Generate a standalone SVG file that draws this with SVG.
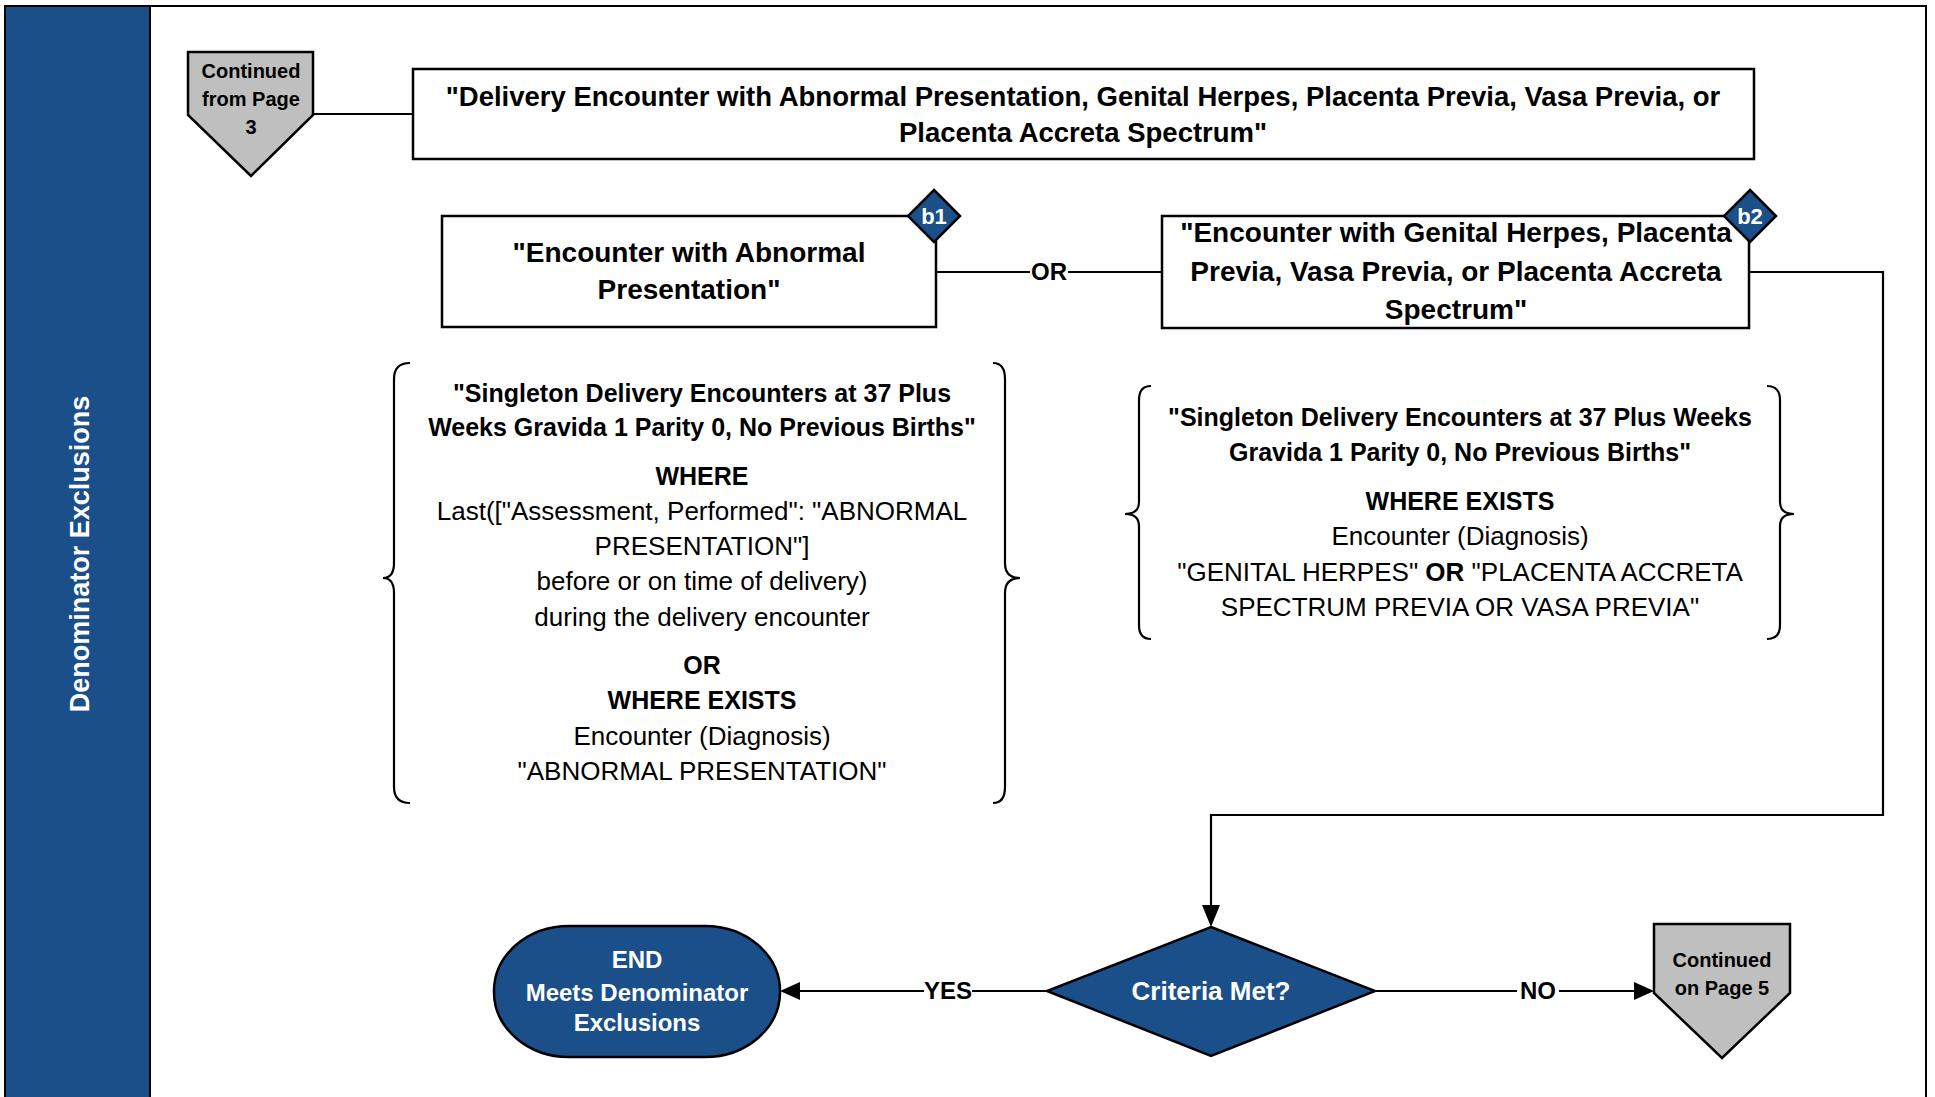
<svg xmlns="http://www.w3.org/2000/svg" width="1935" height="1097" viewBox="0 0 1935 1097">
<defs>
<style>
.b{font-family:"Liberation Sans",Arial,sans-serif;font-weight:bold;text-anchor:middle;fill:#000}
.r{font-family:"Liberation Sans",Arial,sans-serif;font-weight:normal;text-anchor:middle;fill:#000}
.w{fill:#fff}
.box{fill:#fff;stroke:#000;stroke-width:2.5}
.blue{fill:#1B4F8A;stroke:#000;stroke-width:2.5}
.gray{fill:#BFBFBF;stroke:#000;stroke-width:2.5}
.ln{fill:none;stroke:#000;stroke-width:2.2}
.br{fill:none;stroke:#000;stroke-width:2.2}
</style>
<marker id="ah" viewBox="0 0 10 10" refX="10" refY="5" markerWidth="9" markerHeight="8" markerUnits="userSpaceOnUse" orient="auto" style="overflow:visible">
<path d="M0,0 L10,5 L0,10 Z" fill="#000" transform="scale(1.9,1.5) translate(-4.7,-1.65)"/>
</marker>
</defs>
<rect x="0" y="0" width="1935" height="1097" fill="#fff"/>
<!-- frame and lane -->
<rect x="5" y="6" width="1921" height="1100" fill="none" stroke="#000" stroke-width="2"/>
<rect x="5" y="6" width="145" height="1100" fill="#1B4F8A" stroke="#000" stroke-width="2"/>
<text class="b w" font-size="27" transform="translate(89,554) rotate(-90)">Denominator Exclusions</text>

<!-- connectors -->
<g id="connectors">
<line class="ln" x1="313" y1="114" x2="413" y2="114"/>
<line class="ln" x1="936" y1="272" x2="1162" y2="272"/>
<rect x="1030" y="258" width="38" height="28" fill="#fff"/>
<text class="b" font-size="24" x="1049" y="280">OR</text>
<path class="ln" d="M1749,272 H1883 V815 H1211 V907"/>
<path d="M1202,905 L1220,905 L1211,927 Z" fill="#000"/>
<line class="ln" x1="1047" y1="991" x2="800" y2="991"/>
<path d="M800,982 L800,1000 L780,991 Z" fill="#000"/>
<rect x="924" y="977" width="48" height="28" fill="#fff"/>
<text class="b" font-size="24" x="948" y="999">YES</text>
<line class="ln" x1="1375" y1="991" x2="1634" y2="991"/>
<path d="M1634,982 L1634,1000 L1654,991 Z" fill="#000"/>
<rect x="1517" y="977" width="42" height="28" fill="#fff"/>
<text class="b" font-size="24" x="1538" y="999">NO</text>
</g>

<!-- Continued from page 3 -->
<g id="cont-from-3">
<path class="gray" d="M188,52 H313 V115 L251,176 L188,115 Z"/>
<text class="b" font-size="20" x="251" y="78">Continued</text>
<text class="b" font-size="20" x="251" y="106">from Page</text>
<text class="b" font-size="20" x="251" y="134">3</text>
</g>

<!-- top box -->
<g id="delivery-encounter">
<rect class="box" x="413" y="69" width="1341" height="90"/>
<text class="b" font-size="27.5" x="1083" y="106">"Delivery Encounter with Abnormal Presentation, Genital Herpes, Placenta Previa, Vasa Previa, or</text>
<text class="b" font-size="27.5" x="1083" y="142">Placenta Accreta Spectrum"</text>
</g>

<!-- b1 -->
<g id="b1">
<rect class="box" x="442" y="216" width="494" height="111"/>
<text class="b" font-size="28" x="689" y="262">"Encounter with Abnormal</text>
<text class="b" font-size="28" x="689" y="299">Presentation"</text>
<path class="blue" d="M934,190 L960,216 L934,242 L908,216 Z" stroke-width="1.5"/>
<text class="b w" font-size="22" x="934" y="224">b1</text>
</g>

<!-- b2 -->
<g id="b2">
<rect class="box" x="1162" y="216" width="587" height="112"/>
<text class="b" font-size="28" x="1456" y="242">"Encounter with Genital Herpes, Placenta</text>
<text class="b" font-size="28" x="1456" y="281">Previa, Vasa Previa, or Placenta Accreta</text>
<text class="b" font-size="28" x="1456" y="319">Spectrum"</text>
<path class="blue" d="M1750,190 L1776,216 L1750,242 L1724,216 Z" stroke-width="1.5"/>
<text class="b w" font-size="22" x="1750" y="224">b2</text>
</g>

<!-- left brace block -->
<g id="b1-detail">
<path class="br" d="M410,363 Q394,363 394,379 V563 Q394,578 383,578 Q394,578 394,593 V787 Q394,803 410,803"/>
<path class="br" d="M993,363 Q1005,363 1005,379 V563 Q1005,578 1020,578 Q1005,578 1005,593 V787 Q1005,803 993,803"/>
<text class="b" font-size="25" x="702" y="402">"Singleton Delivery Encounters at 37 Plus</text>
<text class="b" font-size="25" x="702" y="436">Weeks Gravida 1 Parity 0, No Previous Births"</text>
<text class="b" font-size="25" x="702" y="485">WHERE</text>
<text class="r" font-size="26" x="702" y="520">Last(["Assessment, Performed": "ABNORMAL</text>
<text class="r" font-size="26" x="702" y="555">PRESENTATION"]</text>
<text class="r" font-size="26" x="702" y="590">before or on time of delivery)</text>
<text class="r" font-size="26" x="702" y="626">during the delivery encounter</text>
<text class="b" font-size="25" x="702" y="674">OR</text>
<text class="b" font-size="25" x="702" y="709">WHERE EXISTS</text>
<text class="r" font-size="26" x="702" y="745">Encounter (Diagnosis)</text>
<text class="r" font-size="26" x="702" y="780">"ABNORMAL PRESENTATION"</text>
</g>

<!-- right brace block -->
<g id="b2-detail">
<path class="br" d="M1151,386 Q1139,386 1139,400 V502 Q1139,514 1125,514 Q1139,514 1139,526 V625 Q1139,639 1151,639"/>
<path class="br" d="M1767,386 Q1780,386 1780,400 V502 Q1780,514 1794,514 Q1780,514 1780,526 V625 Q1780,639 1767,639"/>
<text class="b" font-size="25" x="1460" y="426">"Singleton Delivery Encounters at 37 Plus Weeks</text>
<text class="b" font-size="25" x="1460" y="461">Gravida 1 Parity 0, No Previous Births"</text>
<text class="b" font-size="25" x="1460" y="510">WHERE EXISTS</text>
<text class="r" font-size="26" x="1460" y="545">Encounter (Diagnosis)</text>
<text class="r" font-size="26" x="1460" y="581">"GENITAL HERPES" <tspan font-weight="bold">OR</tspan> "PLACENTA ACCRETA</text>
<text class="r" font-size="26" x="1460" y="616">SPECTRUM PREVIA OR VASA PREVIA"</text>
</g>

<!-- decision -->
<g id="criteria-met">
<path class="blue" d="M1211,927 L1375,991 L1211,1056 L1047,991 Z"/>
<text class="b w" font-size="26" x="1211" y="1000">Criteria Met?</text>
</g>

<!-- END -->
<g id="end">
<rect class="blue" x="494" y="926" width="286" height="131" rx="75" ry="65"/>
<text class="b w" font-size="24" x="637" y="968">END</text>
<text class="b w" font-size="24" x="637" y="1001">Meets Denominator</text>
<text class="b w" font-size="24" x="637" y="1031">Exclusions</text>
</g>

<!-- Continued on page 5 -->
<g id="cont-on-5">
<path class="gray" d="M1654,924 H1790 V993 L1722,1058 L1654,993 Z"/>
<text class="b" font-size="20" x="1722" y="967">Continued</text>
<text class="b" font-size="20" x="1722" y="995">on Page 5</text>
</g>
</svg>
